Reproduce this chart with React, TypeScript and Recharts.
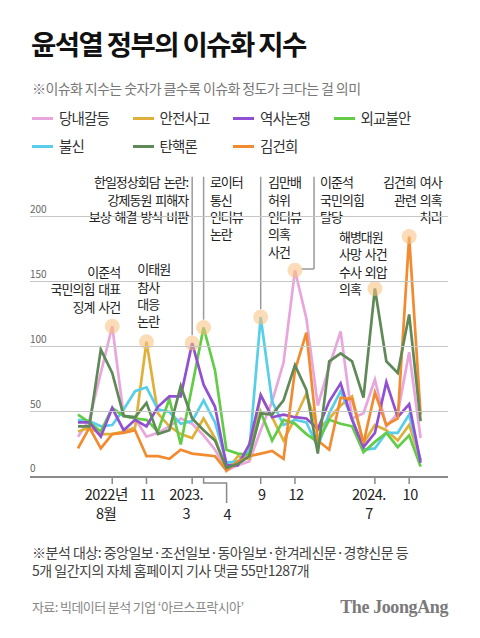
import { LineChart, Line, XAxis, YAxis, ReferenceLine, ReferenceDot } from 'recharts';

// 월별 이슈화 지수 (2022년 5월 ~ 2024년 11월)
const months = [
  '2022.5', '2022.6', '2022.7', '2022.8', '2022.9', '2022.10', '2022.11', '2022.12',
  '2023.1', '2023.2', '2023.3', '2023.4', '2023.5', '2023.6', '2023.7', '2023.8',
  '2023.9', '2023.10', '2023.11', '2023.12', '2024.1', '2024.2', '2024.3', '2024.4',
  '2024.5', '2024.6', '2024.7', '2024.8', '2024.9', '2024.10', '2024.11',
];

const partyConflict = [31, 44, 80, 116, 47, 45, 31, 34, 39, 45, 41, 32, 21, 5, 9, 12, 36, 58, 88, 159, 122, 55, 85, 112, 45, 49, 75, 39, 49, 96, 30];
const safetyAccident = [35, 38, 33, 33, 35, 38, 104, 49, 39, 33, 30, 45, 30, 5, 16, 14, 63, 46, 28, 45, 64, 36, 45, 55, 62, 26, 40, 36, 28, 40, 13];
const historyDispute = [42, 42, 31, 53, 36, 44, 39, 54, 62, 62, 103, 71, 54, 9, 9, 25, 63, 46, 48, 46, 45, 37, 58, 72, 44, 23, 34, 73, 46, 56, 11];
const diplomacy = [48, 42, 35, 53, 47, 45, 44, 35, 60, 25, 70, 115, 82, 21, 18, 17, 50, 28, 44, 41, 33, 27, 44, 41, 39, 19, 27, 34, 23, 32, 8];
const distrust = [44, 43, 39, 40, 52, 66, 69, 52, 50, 41, 43, 59, 42, 11, 12, 20, 123, 58, 40, 44, 42, 23, 49, 66, 45, 21, 22, 34, 34, 48, 13];
const impeachment = [39, 39, 98, 80, 47, 46, 57, 33, 36, 70, 45, 36, 28, 7, 10, 16, 49, 48, 59, 86, 67, 18, 89, 95, 89, 61, 145, 89, 80, 125, 43];
const kimKeonhee = [22, 38, 22, 33, 34, 36, 16, 16, 14, 21, 18, 17, 16, 5, 12, 16, 18, 20, 14, 82, 111, 28, 21, 61, 60, 26, 65, 40, 45, 185, 48];

const tickMonths = ['2022.8', '2022.11', '2023.3', '2023.4', '2023.9', '2023.12', '2024.7', '2024.10'];
const tickLabels = [['2022년', '8월'], ['11'], ['2023.', '3'], ['4'], ['9'], ['12'], ['2024.', '7'], ['10']];
const yTicks = [0, 50, 100, 150, 200];

const series = [
  { key: '당내갈등', values: partyConflict, color: '#e8a6dc' },
  { key: '안전사고', values: safetyAccident, color: '#dfb03a' },
  { key: '역사논쟁', values: historyDispute, color: '#9150d2' },
  { key: '외교불안', values: diplomacy, color: '#62cc46' },
  { key: '불신', values: distrust, color: '#58cfea' },
  { key: '탄핵론', values: impeachment, color: '#5f8a58' },
  { key: '김건희', values: kimKeonhee, color: '#f28b30' },
];
const drawOrder = ['당내갈등', '안전사고', '불신', '외교불안', '역사논쟁', '김건희', '탄핵론'];

// 강조 표시된 시점: [계열, 월]
const highlights: [string, string][] = [
  ['당내갈등', '2022.8'], ['안전사고', '2022.11'], ['역사논쟁', '2023.3'], ['외교불안', '2023.4'],
  ['불신', '2023.9'], ['당내갈등', '2023.12'], ['탄핵론', '2024.7'], ['김건희', '2024.10'],
];

const notes = [
  { x: 3.7, y: 154, anchor: 'end', lines: ['이준석', '국민의힘 대표', '징계 사건'] },
  { x: 5.2, y: 156, anchor: 'start', lines: ['이태원', '참사', '대응', '논란'] },
  { x: 9.65, y: 223, anchor: 'end', lines: ['한일정상회담 논란:', '강제동원 피해자', '보상 해결 방식 비판'] },
  { x: 11.55, y: 223, anchor: 'start', lines: ['로이터', '통신', '인터뷰', '논란'] },
  { x: 16.65, y: 223, anchor: 'start', lines: ['김만배', '허위', '인터뷰', '의혹', '사건'] },
  { x: 21.2, y: 223, anchor: 'start', lines: ['이준석', '국민의힘', '탈당'] },
  { x: 22.85, y: 181, anchor: 'start', lines: ['해병대원', '사망 사건', '수사 외압', '의혹'] },
  { x: 31.85, y: 223, anchor: 'end', lines: ['김건희 여사', '관련 의혹', '처리'] },
];

const data = months.map((m, i) => {
  const row: Record<string, any> = { i, m, hl: null };
  series.forEach(s => { row[s.key] = s.values[i]; });
  highlights.forEach(([k, mm]) => { if (mm === m) row.hl = row[k]; });
  return row;
});

const W = 480;
const H = 638;
const M = { top: 152, right: 32, bottom: 131, left: 30 };
const X_DOMAIN: [number, number] = [-4.2, 32.4];
const FONT = "'Noto Sans CJK KR', 'Noto Sans', sans-serif";
const LEADER = '#9a9a9a';

function MonthTick({ x, y, payload }: any) {
  const k = tickMonths.indexOf(months[payload.value]);
  const lines = tickLabels[k] || [];
  const bent = months[payload.value] === '2023.4';
  if (bent) {
    return (
      <g>
        <path d={`M${x},${y} V${y + 6} H${x + 23} V${y + 26}`} stroke="#8a8a8a" strokeWidth={1.5} fill="none" />
        <text x={x + 24} y={y + 43} textAnchor="middle" fontSize={14.5} fill="#222" fontFamily={FONT}>{lines[0]}</text>
      </g>
    );
  }
  const dx = lines.length > 1 ? -6 : 1;
  return (
    <g>
      <line x1={x} x2={x} y1={y} y2={y + 7} stroke="#8a8a8a" strokeWidth={1.5} />
      {lines.map((t, j) => (
        <text key={j} x={x + dx} y={y + 23 + j * 19} textAnchor="middle" fontSize={14.5} fill="#222" fontFamily={FONT} letterSpacing={-0.5}>{t}</text>
      ))}
    </g>
  );
}

// 눈금 자리에서 가로 보조선도 함께 그림
function ValueTick({ y, payload }: any) {
  const gy = Math.round(y) - 0.5;
  return (
    <g>
      {payload.value > 0 && (
        <path d={`M${M.left},${gy} H${W - M.right}`} stroke="#c6c6c6" strokeWidth={1} shapeRendering="crispEdges" />
      )}
      <text x={M.left} y={y - (payload.value === 0 ? 5 : 4)} fontSize={10} fill="#666" fontFamily={FONT}>{payload.value}</text>
    </g>
  );
}

function PeakDot(p: any) {
  if (p.value == null || p.cy == null) return <g key={p.index} />;
  return <circle key={p.index} cx={p.cx} cy={p.cy} r={7.5} fill="#f8c07c" fillOpacity={0.55} />;
}

function NoteText({ cx, cy, note }: any) {
  return (
    <text x={cx} y={cy} textAnchor={note.anchor} fontSize={13} fill="#222" fontFamily={FONT}
      letterSpacing={-1} wordSpacing={2} stroke="#fff" strokeWidth={4} paintOrder="stroke" strokeLinejoin="round">
      {note.lines.map((t: string, j: number) => (
        <tspan key={j} x={cx} y={cy + j * 17.4}>{t}</tspan>
      ))}
    </text>
  );
}

function LegendRow({ items, top }: { items: typeof series; top: number }) {
  return (
    <>
      {items.map((s, j) => (
        <div key={s.key} style={{ position: 'absolute', left: 32 + j * 100.5, top, height: 20, display: 'flex', alignItems: 'center' }}>
          <span style={{ display: 'inline-block', width: 21, height: 3, background: s.color, marginRight: 6 }} />
          <span style={{ fontSize: 14.5, color: '#333', letterSpacing: -0.8, lineHeight: '20px' }}>{s.key}</span>
        </div>
      ))}
    </>
  );
}

export default function App() {
  const tickIdx = tickMonths.map(t => months.indexOf(t));
  const ordered = drawOrder.map(k => series.find(s => s.key === k)!);
  return (
    <div style={{ position: 'absolute', left: 0, top: 0, width: W, height: H, background: '#fff', fontFamily: FONT, overflow: 'hidden' }}>
      <div style={{ position: 'absolute', left: 31, top: 27, fontSize: 27.5, fontWeight: 700, letterSpacing: -1.6, lineHeight: '32px', color: '#111' }}>
        윤석열 정부의 이슈화 지수
      </div>
      <div style={{ position: 'absolute', left: 32, top: 78, fontSize: 14, letterSpacing: -0.6, lineHeight: '20px', color: '#777' }}>
        ※이슈화 지수는 숫자가 클수록 이슈화 정도가 크다는 걸 의미
      </div>
      <LegendRow items={series.slice(0, 4)} top={108} />
      <LegendRow items={series.slice(4)} top={136} />

      <div style={{ position: 'absolute', left: 0, top: 0 }}>
        <LineChart width={W} height={H} data={data} margin={M}>
          <XAxis type="number" dataKey="i" domain={X_DOMAIN} ticks={tickIdx} interval={0} allowDataOverflow
            height={30} axisLine={{ stroke: '#8a8a8a', strokeWidth: 2 }} tickLine={false} tickSize={0} tickMargin={0}
            tick={<MonthTick />} />
          <YAxis type="number" domain={[0, 250]} ticks={yTicks} interval={0} mirror width={30} axisLine={false} tickLine={false}
            tickSize={0} tickMargin={0} tick={<ValueTick />} allowDataOverflow />
          <ReferenceLine segment={[{ x: 10, y: 109 }, { x: 10, y: 231 }]} stroke={LEADER} strokeWidth={1.5} ifOverflow="visible" />
          <ReferenceLine segment={[{ x: 11, y: 121 }, { x: 11, y: 231 }]} stroke={LEADER} strokeWidth={1.5} ifOverflow="visible" />
          <ReferenceLine segment={[{ x: 16, y: 129 }, { x: 16, y: 231 }]} stroke={LEADER} strokeWidth={1.5} ifOverflow="visible" />
          <ReferenceLine segment={[{ x: 19.6, y: 160 }, { x: 20.67, y: 160 }]} stroke={LEADER} strokeWidth={1.5} ifOverflow="visible" />
          <ReferenceLine segment={[{ x: 20.67, y: 160 }, { x: 20.67, y: 231 }]} stroke={LEADER} strokeWidth={1.5} ifOverflow="visible" />
          <Line dataKey="hl" stroke="none" dot={PeakDot} activeDot={false} legendType="none" isAnimationActive={false} />
          {ordered.map(s => (
            <Line key={s.key} type="linear" dataKey={s.key} stroke={s.color} strokeWidth={2.7} dot={false}
              activeDot={false} isAnimationActive={false} />
          ))}
          {notes.map((n, j) => (
            <ReferenceDot key={j} x={n.x} y={n.y} r={0} ifOverflow="visible"
              shape={(p: any) => <NoteText {...p} note={n} />} />
          ))}
        </LineChart>
      </div>

      <div style={{ position: 'absolute', left: 32, top: 543, fontSize: 14, letterSpacing: -0.5, lineHeight: '18px', color: '#444' }}>
        ※분석 대상: 중앙일보·조선일보·동아일보·한겨레신문·경향신문 등<br />
        5개 일간지의 자체 홈페이지 기사 댓글 55만1287개
      </div>
      <div style={{ position: 'absolute', left: 32, top: 597, fontSize: 13, letterSpacing: -0.6, lineHeight: '20px', color: '#888' }}>
        자료: 빅데이터 분석 기업 ‘아르스프락시아’
      </div>
      <div style={{ position: 'absolute', right: 32, top: 596, fontSize: 18, fontWeight: 700, letterSpacing: -0.4, lineHeight: '22px', color: '#7a7a7a', fontFamily: "'Liberation Serif', 'DejaVu Serif', serif" }}>
        The JoongAng
      </div>
    </div>
  );
}
